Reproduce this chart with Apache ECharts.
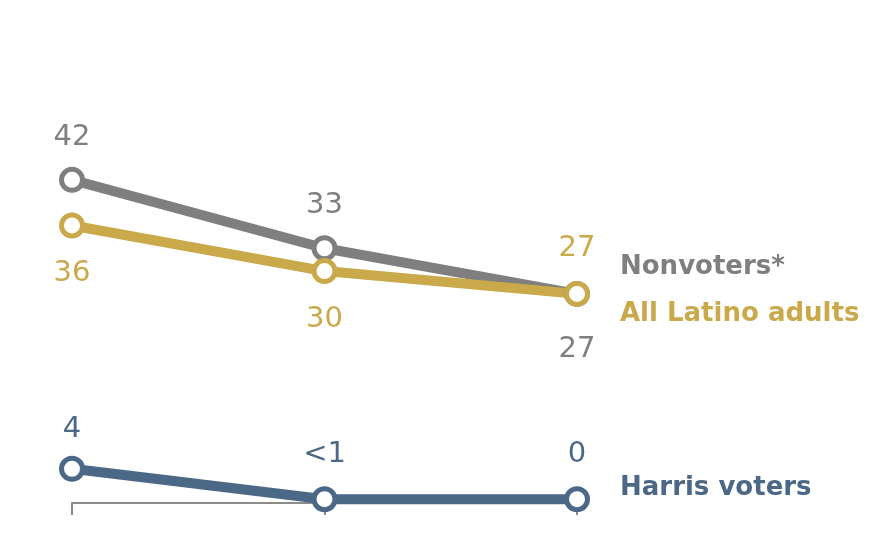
<!DOCTYPE html>
<html>
<head>
<meta charset="utf-8">
<script src="https://cdn.jsdelivr.net/npm/echarts@6/dist/echarts.min.js"></script>
<style>
  html, body { margin: 0; padding: 0; background: #fff; }
  #chart { width: 880px; height: 542px; }
</style>
</head>
<body>
<div id="chart"></div>
<script>
// three survey points, no labels shown on the axis
var categories = ['A', 'B', 'C'];

var nonvoters = [42, 33, 27];
var latinoAdults = [36, 30, 27];
var harrisVoters = [4, 0, 0];

var nonvotersText = ['42', '33', '27'];
var latinoText = ['36', '30', '27'];
var harrisText = ['4', '<1', '0'];

var GRAY = '#7f7f7f', GOLD = '#c9a94a', BLUE = '#4b6886';
var FONT = 'DejaVu Sans';

// data items carry their label text; places/dist say where the label sits
function points(values, texts, places, dist, color) {
    return values.map(function (v, i) {
        return {
            value: v,
            label: {
                show: true,
                formatter: texts[i],
                position: places[i],
                distance: dist[i],
                color: color,
                fontSize: 29,
                fontFamily: FONT
            }
        };
    });
}

function lineSeries(name, data, color, endOffset) {
    return {
        name: name,
        type: 'line',
        data: data,
        symbol: 'circle',
        symbolSize: 21,
        lineStyle: { color: color, width: 10 },
        itemStyle: { color: '#fff', borderColor: color, borderWidth: 5 },
        endLabel: {
            show: true,
            formatter: name,
            color: color,
            fontSize: 26,
            fontWeight: 'bold',
            fontFamily: FONT,
            offset: endOffset
        },
        emphasis: { disabled: true },
        animation: false
    };
}

var chart = echarts.init(document.getElementById('chart'));

var option = {
    backgroundColor: '#fff',
    grid: { left: 72, right: 303, top: 119, bottom: 39 },
    xAxis: {
        type: 'category',
        data: categories,
        boundaryGap: false,
        axisLine: { onZero: false, lineStyle: { color: '#8c8c8c', width: 2 } },
        axisTick: { show: true, length: 12, lineStyle: { color: '#8c8c8c', width: 2 } },
        axisLabel: { show: false }
    },
    yAxis: {
        type: 'value',
        min: -0.5,
        max: 50,
        show: false,
        splitLine: { show: false }
    },
    series: [
        lineSeries('Nonvoters*',
            points(nonvoters, nonvotersText, ['top', 'top', 'bottom'], [15, 15, 28], GRAY),
            GRAY, [35, -27]),
        lineSeries('All Latino adults',
            points(latinoAdults, latinoText, ['bottom', 'bottom', 'top'], [21, 21, 18], GOLD),
            GOLD, [35, 20]),
        lineSeries('Harris voters',
            points(harrisVoters, harrisText, ['top', 'top', 'top'], [12, 17, 17], BLUE),
            BLUE, [35, -11])
    ]
};

chart.setOption(option);
</script>
</body>
</html>
